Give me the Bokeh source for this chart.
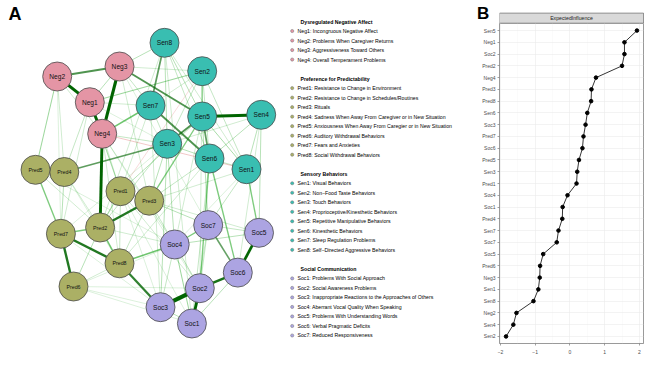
import numpy as np
from bokeh.plotting import figure
from bokeh.models import Range1d, FactorRange, ColumnDataSource, FixedTicker
from bokeh.layouts import row, column
from bokeh.embed import file_html
from bokeh.resources import INLINE
from bokeh.core.properties import value

FONT = "Liberation Sans"

# ---------------- data ----------------
group_titles = ["Dysregulated Negative Affect", "Preference for Predictability",
                "Sensory Behaviors", "Social Communication"]
group_prefix = ["Neg", "Pred", "Sen", "Soc"]
group_colors = ["#E495A5", "#ABB065", "#39BEB1", "#ACA4E2"]

neg_items = ["Neg1: Incongruous Negative Affect",
             "Neg2: Problems When Caregiver Returns",
             "Neg3: Aggressiveness Toward Others",
             "Neg4: Overall Temperament Problems"]
pred_items = ["Pred1: Resistance to Change in Environment",
              "Pred2: Resistance to Change in Schedules/Routines",
              "Pred3: Rituals",
              "Pred4: Sadness When Away From Caregiver or in New Situation",
              "Pred5: Anxiousness When Away From Caregier or in New Situation",
              "Pred6: Auditory Withdrawal Behaviors",
              "Pred7: Fears and Anxieties",
              "Pred8: Social Withdrawal Behaviors"]
sen_items = ["Sen1: Visual Behaviors",
             "Sen2: Non\u2212Food Taste Behaviors",
             "Sen3: Touch Behaviors",
             "Sen4: Proprioceptive/Kinesthetic Behaviors",
             "Sen5: Repetitive Manipulative Behaviors",
             "Sen6: Kinesthetic Behaviors",
             "Sen7: Sleep Regulation Problems",
             "Sen8: Self\u2212Directed Aggressive Behaviors"]
soc_items = ["Soc1: Problems With Social Approach",
             "Soc2: Social Awareness Problems",
             "Soc3: Inappropriate Reactions to the Approaches of Others",
             "Soc4: Aberrant Vocal Quality When Speaking",
             "Soc5: Problems With Understanding Words",
             "Soc6: Verbal Pragmatic Deficits",
             "Soc7: Reduced Responsiveness"]

# network layout (pixel-like layout coordinates)
node_names = ["Neg1", "Neg2", "Neg3", "Neg4",
              "Pred1", "Pred2", "Pred3", "Pred4", "Pred5", "Pred6", "Pred7", "Pred8",
              "Sen1", "Sen2", "Sen3", "Sen4", "Sen5", "Sen6", "Sen7", "Sen8",
              "Soc1", "Soc2", "Soc3", "Soc4", "Soc5", "Soc6", "Soc7"]
layout_x = [89.3, 56.7, 119.0, 101.7,
            120.0, 99.6, 148.7, 63.8, 35.0, 73.0, 60.4, 119.0,
            246.0, 201.7, 166.7, 260.7, 201.7, 209.0, 150.0, 164.0,
            191.4, 199.3, 160.0, 174.2, 258.5, 237.3, 207.7]
layout_y = [101.7, 76.0, 66.0, 133.3,
            190.7, 227.0, 200.2, 171.5, 169.3, 286.0, 233.3, 262.8,
            168.7, 70.7, 143.3, 114.3, 116.0, 158.0, 105.0, 42.3,
            323.0, 287.7, 306.7, 244.0, 232.3, 272.1, 224.6]

edge_from = ["Neg1", "Neg1", "Neg3", "Neg2", "Neg1", "Neg2",
             "Neg3", "Neg4", "Neg1", "Neg3", "Neg3", "Neg1", "Neg4", "Neg4", "Neg3", "Neg1",
             "Neg4", "Neg2", "Neg2", "Neg1", "Neg1", "Neg1", "Neg4", "Neg2", "Neg3", "Neg4",
             "Neg4", "Neg3", "Neg1", "Neg4",
             "Sen4", "Sen7", "Sen8", "Sen5", "Sen5", "Sen2", "Sen8", "Sen8", "Sen8", "Sen8",
             "Sen2", "Sen2", "Sen2", "Sen4", "Sen4", "Sen4", "Sen5", "Sen3", "Sen6", "Sen7", "Sen7",
             "Sen3", "Sen5", "Sen5", "Sen2", "Sen3", "Sen7", "Sen3", "Sen6", "Sen6", "Sen8", "Sen1", "Sen3",
             "Sen1", "Sen6", "Sen6", "Sen3", "Sen5", "Sen3", "Sen6", "Sen4", "Sen4", "Sen1", "Sen2",
             "Sen5", "Sen7", "Sen8", "Sen1",
             "Pred2", "Pred7", "Pred7", "Pred2", "Pred2", "Pred5", "Pred1", "Pred1", "Pred4", "Pred6",
             "Pred4", "Pred1", "Pred3", "Pred5", "Pred4", "Pred6", "Pred4",
             "Pred8", "Pred8", "Pred3", "Pred3", "Pred2", "Pred1", "Pred6", "Pred6", "Pred6", "Pred7",
             "Pred5", "Pred3", "Pred1", "Pred6",
             "Soc2", "Soc1", "Soc2", "Soc5", "Soc6", "Soc4", "Soc4", "Soc1", "Soc1", "Soc2", "Soc3",
             "Soc1", "Soc5", "Soc2", "Soc3", "Soc1"]
edge_to = ["Neg2", "Neg4", "Neg4", "Neg3", "Neg3", "Neg4",
           "Sen5", "Sen7", "Sen2", "Sen8", "Sen7", "Sen7", "Sen3", "Sen1", "Sen2", "Sen3",
           "Pred2", "Pred5", "Pred4", "Pred4", "Pred7", "Pred1", "Pred1", "Pred7", "Pred3", "Pred8",
           "Soc4", "Soc7", "Soc3", "Soc2",
           "Sen5", "Sen6", "Sen7", "Sen6", "Sen3", "Sen5", "Sen3", "Sen5", "Sen6", "Sen1",
           "Sen6", "Sen1", "Sen3", "Sen1", "Sen6", "Sen3", "Sen1", "Sen6", "Sen1", "Sen3", "Sen2",
           "Pred4", "Pred3", "Pred1", "Pred1", "Pred3", "Pred1", "Pred2", "Pred3", "Pred8", "Pred2", "Pred3", "Pred7",
           "Soc5", "Soc2", "Soc6", "Soc4", "Soc7", "Soc3", "Soc1", "Soc5", "Soc6", "Soc7", "Soc2",
           "Soc4", "Soc3", "Soc1", "Soc4",
           "Pred3", "Pred8", "Pred6", "Pred8", "Pred7", "Pred7", "Pred2", "Pred3", "Pred7", "Pred2",
           "Pred5", "Pred8", "Pred8", "Pred2", "Pred2", "Pred8", "Pred8",
           "Soc3", "Soc4", "Soc7", "Soc4", "Soc4", "Soc2", "Soc3", "Soc2", "Soc4", "Soc3",
           "Soc4", "Soc5", "Soc1", "Soc1",
           "Soc3", "Soc2", "Soc6", "Soc6", "Soc7", "Soc7", "Soc5", "Soc6", "Soc4", "Soc4", "Soc4",
           "Soc3", "Soc7", "Soc7", "Soc6", "Soc7"]
edge_weight = [0.30, 0.30, 0.32, 0.18, 0.06, 0.04,
               0.18, 0.14, 0.08, 0.06, 0.05, 0.04, 0.05, -0.06, 0.04, 0.03,
               0.30, 0.08, 0.04, 0.05, 0.04, 0.05, 0.04, 0.03, 0.04, 0.04,
               0.04, 0.03, 0.03, 0.03,
               0.30, 0.18, 0.16, 0.16, 0.18, 0.10, 0.06, 0.06, 0.05, 0.04,
               0.05, 0.05, 0.05, 0.06, 0.06, 0.04, 0.07, 0.06, 0.05, 0.05, 0.04,
               0.16, 0.12, 0.06, -0.04, 0.06, 0.04, 0.05, 0.05, 0.04, 0.04, 0.04, 0.03,
               0.12, 0.12, 0.12, 0.06, 0.06, 0.06, 0.05, 0.06, 0.04, 0.05, 0.04,
               0.04, 0.04, 0.04, 0.03,
               0.24, 0.24, 0.24, 0.14, 0.12, 0.12, 0.08, 0.06, 0.06, 0.06,
               0.05, 0.05, 0.05, 0.04, 0.04, 0.04, 0.03,
               0.22, 0.14, 0.06, 0.05, 0.04, 0.04, 0.03, 0.03, 0.03, 0.03,
               0.03, 0.04, 0.03, 0.03,
               0.45, 0.30, 0.25, 0.28, 0.15, 0.12, 0.06, 0.06, 0.08, 0.06, 0.05,
               0.06, 0.05, 0.05, 0.03, 0.04]

# expected influence (top to bottom)
ei_nodes = ["Sen5", "Neg1", "Soc2", "Pred2", "Neg4", "Pred3", "Pred8", "Sen6", "Soc3",
            "Pred7", "Soc6", "Pred5", "Sen3", "Pred1", "Soc4", "Soc1", "Pred4", "Sen7",
            "Soc7", "Soc5", "Pred6", "Neg3", "Sen1", "Sen8", "Neg2", "Sen4", "Sen2"]
ei_values = [1.93, 1.57, 1.57, 1.50, 0.75, 0.62, 0.61, 0.50, 0.45,
             0.39, 0.36, 0.26, 0.21, 0.19, -0.07, -0.21, -0.22, -0.33,
             -0.38, -0.77, -0.86, -0.87, -0.91, -1.05, -1.54, -1.63, -1.84]


def blank_fig(w, h, xr, yr):
    f = figure(width=w, height=h, x_range=Range1d(*xr), y_range=Range1d(*yr),
               output_backend="svg", toolbar_location=None, min_border=0,
               x_axis_location=None, y_axis_location=None)
    f.grid.visible = False
    f.outline_line_color = None
    return f


# ---------------- panel A ----------------
pa = blank_fig(470, 365, (0, 470), (365, 0))

pos = {n: (x, y) for n, x, y in zip(node_names, layout_x, layout_y)}
order = np.argsort(np.abs(edge_weight))
ex0, ey0, ex1, ey1, ecol, ealpha, ewid = [], [], [], [], [], [], []
for i in order:
    a, b, w = edge_from[i], edge_to[i], edge_weight[i]
    ex0.append(pos[a][0]); ey0.append(pos[a][1])
    ex1.append(pos[b][0]); ey1.append(pos[b][1])
    aw = abs(w)
    if w < 0:
        ecol.append("#D23C3C")
    else:
        ecol.append("#006400" if aw >= 0.15 else "#009900")
    ealpha.append(min(1.0, 0.15 + 3.0 * aw))
    ewid.append(0.35 + 8.5 * aw)
pa.segment(x0="x0", y0="y0", x1="x1", y1="y1", line_color="c", line_alpha="a",
           line_width="w",
           source=ColumnDataSource(dict(x0=ex0, y0=ey0, x1=ex1, y1=ey1, c=ecol, a=ealpha, w=ewid)))

node_col = []
for n in node_names:
    for pre, c in zip(group_prefix, group_colors):
        if n.startswith(pre):
            node_col.append(c)
pa.scatter(layout_x, layout_y, size=29, fill_color=node_col, line_color="#4A4A4A", line_width=0.8)

is_pred = [n.startswith("Pred") for n in node_names]
pa.text([x for x, f in zip(layout_x, is_pred) if not f], [y for y, f in zip(layout_y, is_pred) if not f],
        text=[n for n, f in zip(node_names, is_pred) if not f], text_align="center", text_baseline="middle",
        text_font=value(FONT), text_font_size="6.6px", text_color="#111111")
pa.text([x for x, f in zip(layout_x, is_pred) if f], [y for y, f in zip(layout_y, is_pred) if f],
        text=[n for n, f in zip(node_names, is_pred) if f], text_align="center", text_baseline="middle",
        text_font=value(FONT), text_font_size="5.3px", text_color="#111111")

pa.text([8], [13.2], text=["A"], text_font=value(FONT), text_font_size="18px", text_font_style="bold",
        text_baseline="middle", text_color="black")

# legend
all_items = [neg_items, pred_items, sen_items, soc_items]
hx, hy, ht = [], [], []
bx, by, bc, tx, ty, tt = [], [], [], [], [], []
line = 0
y0 = 21.0
dy = 9.515
for g, items in enumerate(all_items):
    hx.append(300); hy.append(y0 + line * dy); ht.append(group_titles[g])
    line += 1
    for it in items:
        bx.append(291.7); by.append(y0 + line * dy); bc.append(group_colors[g])
        tx.append(297); ty.append(y0 + line * dy); tt.append(it)
        line += 1
    line += 1
pa.text(hx, hy, text=ht, text_font=value(FONT), text_font_size="5.2px", text_font_style="bold",
        text_baseline="middle", text_color="black")
pa.scatter(bx, by, size=3.2, fill_color=bc, line_color="#777777", line_width=0.5)
pa.text(tx, ty, text=tt, text_font=value(FONT), text_font_size="5.2px",
        text_baseline="middle", text_color="black")

# ---------------- panel B header ----------------
HEAD = 23
bfig = blank_fig(29, HEAD, (470, 499), (HEAD, 0))
bfig.text([476.5], [13.4], text=["B"], text_font=value(FONT), text_font_size="17px",
          text_font_style="bold", text_baseline="middle", text_color="black")

strip = blank_fig(149, HEAD, (499, 648), (HEAD, 0))
strip.quad(left=[499], right=[643], top=[12.6], bottom=[HEAD - 0.3], fill_color="#D9D9D9",
           line_color="#555555", line_width=0.6)
strip.text([571], [17.6], text=["ExpectedInfluence"], text_align="center", text_baseline="middle",
           text_font=value(FONT), text_font_size="5.2px", text_color="#1A1A1A")

# ---------------- panel B ----------------
span = max(ei_values) - min(ei_values)
xlo = min(ei_values) - 0.05 * span
xhi = max(ei_values) + 0.05 * span
factors = list(reversed(ei_nodes))
pb = figure(width=178, height=365 - HEAD, x_range=Range1d(xlo, xhi),
            y_range=FactorRange(factors=factors, range_padding=0.1, range_padding_units="absolute"),
            output_backend="svg", toolbar_location=None,
            min_border_left=29, min_border_right=5, min_border_top=0, min_border_bottom=22)
pb.outline_line_color = "#555555"
pb.outline_line_width = 0.6
pb.background_fill_color = "white"
pb.xaxis.ticker = FixedTicker(ticks=[-2, -1, 0, 1, 2], minor_ticks=[-1.5, -0.5, 0.5, 1.5])
pb.xgrid.grid_line_color = "#EBEBEB"
pb.xgrid.grid_line_width = 0.6
pb.xgrid.minor_grid_line_color = "#F4F4F4"
pb.xgrid.minor_grid_line_width = 0.4
pb.ygrid.grid_line_color = "#EBEBEB"
pb.ygrid.grid_line_width = 0.6
for ax in (pb.xaxis[0], pb.yaxis[0]):
    ax.axis_line_color = None
    ax.major_tick_line_color = "#444444"
    ax.major_tick_line_width = 0.5
    ax.major_tick_out = 2
    ax.major_tick_in = 0
    ax.minor_tick_line_color = None
    ax.major_label_text_font = FONT
    ax.major_label_text_font_size = "5px"
    ax.major_label_text_color = "#4D4D4D"
    ax.major_label_standoff = 2
pb.line(ei_values, ei_nodes, line_color="black", line_width=0.8)
pb.scatter(ei_values, ei_nodes, size=3.6, fill_color="black", line_color="black")

layout = row(pa, column(row(bfig, strip, spacing=0), pb, spacing=0), spacing=0)
open("out.html", "w").write(file_html(layout, INLINE))
